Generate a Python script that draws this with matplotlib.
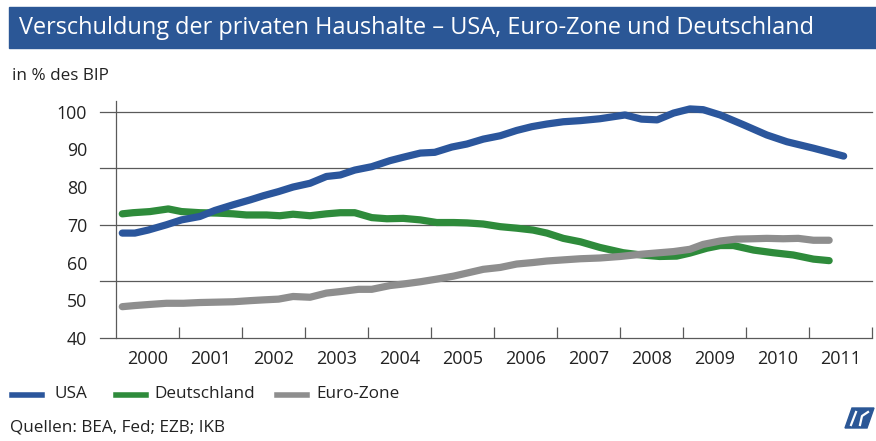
import matplotlib
matplotlib.use('Agg')
import matplotlib.pyplot as plt
from matplotlib.patches import Rectangle, Polygon
from matplotlib.lines import Line2D

plt.rcParams['font.family'] = ['Open Sans', 'DejaVu Sans']

# data (x in fractional years, values in % of GDP)
usa_x = [2000.10, 2000.30, 2000.51, 2000.80, 2001.04, 2001.33, 2001.57, 2001.86,
         2002.13, 2002.34, 2002.58, 2002.81, 2003.08, 2003.34, 2003.56, 2003.79,
         2004.06, 2004.35, 2004.56, 2004.83, 2005.06, 2005.33, 2005.57, 2005.83,
         2006.10, 2006.36, 2006.60, 2006.84, 2007.10, 2007.37, 2007.68, 2008.08,
         2008.34, 2008.59, 2008.85, 2009.11, 2009.32, 2009.59, 2009.96, 2010.33,
         2010.65, 2011.07, 2011.55]
usa = [67.8, 67.8, 68.6, 70.0, 71.3, 72.2, 73.8, 75.3,
       76.6, 77.7, 78.8, 80.0, 81.0, 82.8, 83.2, 84.5,
       85.4, 87.0, 87.9, 89.0, 89.2, 90.6, 91.4, 92.7,
       93.6, 95.0, 96.0, 96.7, 97.3, 97.6, 98.1, 99.1,
       98.0, 97.8, 99.6, 100.7, 100.5, 99.1, 96.5, 93.8,
       92.0, 90.3, 88.2]

de_x = [2000.10, 2000.27, 2000.54, 2000.83, 2001.04, 2001.33, 2001.60, 2001.86,
        2002.07, 2002.39, 2002.60, 2002.81, 2003.08, 2003.34, 2003.56, 2003.79,
        2004.06, 2004.30, 2004.56, 2004.83, 2005.09, 2005.36, 2005.57, 2005.83,
        2006.10, 2006.36, 2006.62, 2006.84, 2007.10, 2007.37, 2007.68, 2008.05,
        2008.34, 2008.63, 2008.90, 2009.11, 2009.38, 2009.59, 2009.80, 2010.12,
        2010.43, 2010.75, 2011.07, 2011.32]
de = [72.9, 73.2, 73.5, 74.2, 73.5, 73.2, 73.1, 72.9,
      72.6, 72.6, 72.4, 72.8, 72.4, 72.9, 73.2, 73.2,
      71.9, 71.6, 71.7, 71.3, 70.6, 70.6, 70.5, 70.2,
      69.5, 69.1, 68.6, 67.8, 66.4, 65.5, 64.0, 62.6,
      62.0, 61.6, 61.7, 62.5, 63.8, 64.5, 64.5, 63.3,
      62.6, 62.0, 60.9, 60.5]

ez_x = [2000.10, 2000.30, 2000.54, 2000.80, 2001.07, 2001.33, 2001.60, 2001.86,
        2002.13, 2002.34, 2002.58, 2002.81, 2003.08, 2003.34, 2003.56, 2003.85,
        2004.06, 2004.35, 2004.56, 2004.83, 2005.09, 2005.36, 2005.57, 2005.83,
        2006.10, 2006.36, 2006.62, 2006.84, 2007.10, 2007.37, 2007.68, 2008.00,
        2008.34, 2008.63, 2008.85, 2009.11, 2009.32, 2009.59, 2009.85, 2010.12,
        2010.33, 2010.59, 2010.83, 2011.07, 2011.32]
ez = [48.3, 48.6, 48.9, 49.2, 49.2, 49.4, 49.5, 49.6,
      49.9, 50.1, 50.3, 51.0, 50.8, 51.9, 52.3, 52.9,
      52.9, 53.9, 54.3, 54.9, 55.6, 56.4, 57.2, 58.2,
      58.7, 59.6, 60.0, 60.4, 60.7, 61.0, 61.2, 61.6,
      62.2, 62.6, 62.9, 63.5, 64.8, 65.7, 66.2, 66.3,
      66.4, 66.3, 66.4, 65.9, 65.9]

years = list(range(2000, 2012))
yticks = [40, 50, 60, 70, 80, 90, 100]
grid_vals = [55, 70, 85, 100]

c_usa = '#2b569c'
c_de = '#2e8b3b'
c_ez = '#8e8e8e'
c_bar = '#2b5796'
c_axis = '#5a5a5a'
c_text = '#222222'

W, H = 876, 441
fig = plt.figure(figsize=(W / 100, H / 100), dpi=100)

# title bar
fig.patches.append(Rectangle((9 / W, 1 - 48 / H), 1 - 9 / W, 41 / H,
                             transform=fig.transFigure, color=c_bar, zorder=0))
fig.text(19 / W, 1 - 28 / H, 'Verschuldung der privaten Haushalte \u2013 USA, Euro-Zone und Deutschland',
         color='white', fontsize=16.9, va='center', ha='left')
fig.text(12 / W, 1 - 76 / H, 'in % des BIP', fontsize=12.3, va='center', ha='left', color=c_text)

ax = fig.add_axes([116 / W, 1 - 338 / H, 756 / W, 237 / H])
ax.set_xlim(2000, 2012)
ax.set_ylim(40, 102.8)

for g in grid_vals + [40]:
    ax.axhline(g, xmin=-16 / 756, xmax=1, color=c_axis, lw=0.9, clip_on=False, zorder=1)

ax.plot(de_x, de, color=c_de, lw=5.2, solid_capstyle='round', solid_joinstyle='round', zorder=3)
ax.plot(ez_x, ez, color=c_ez, lw=5.2, solid_capstyle='round', solid_joinstyle='round', zorder=4)
ax.plot(usa_x, usa, color=c_usa, lw=5.2, solid_capstyle='round', solid_joinstyle='round', zorder=5)

for s in ['top', 'right', 'bottom']:
    ax.spines[s].set_visible(False)
ax.spines['left'].set_color(c_axis)
ax.spines['left'].set_linewidth(0.9)

ax.set_yticks(yticks)
ax.set_yticklabels([str(v) for v in yticks], fontsize=12.8, color=c_text)
ax.tick_params(axis='y', length=0, pad=29 / 1.389)

ax.set_xticks([y + 1 for y in years])
ax.set_xticklabels([])
ax.tick_params(axis='x', which='major', direction='in', length=8, width=0.9, color=c_axis)
ax.set_xticks([y + 0.5 for y in years], minor=True)
ax.set_xticklabels([str(y) for y in years], minor=True, fontsize=13, color=c_text)
ax.tick_params(axis='x', which='minor', length=0, pad=9)

# legend
items = [(12, 55, 'USA', c_usa), (116, 154, 'Deutschland', c_de), (277, 316, 'Euro-Zone', c_ez)]
for x0, xt, lab, col in items:
    fig.lines.append(Line2D([x0 / W, (x0 + 30) / W], [1 - 395 / H] * 2, color=col, lw=4,
                            transform=fig.transFigure))
    fig.text(xt / W, 1 - 394 / H, lab, fontsize=12.3, va='center', ha='left', color=c_text)

fig.text(10 / W, 1 - 427 / H, 'Quellen: BEA, Fed; EZB; IKB', fontsize=12.3, va='center',
         ha='left', color=c_text)

# small logo bottom right
logo = Polygon([(852 / W, 1 - 408 / H), (874 / W, 1 - 408 / H), (867 / W, 1 - 428 / H),
                (845 / W, 1 - 428 / H)], closed=True, transform=fig.transFigure, color=c_bar)
fig.patches.append(logo)
fig.lines.append(Line2D([856 / W, 851 / W], [1 - 412 / H, 1 - 425 / H], color='white', lw=1.6,
                        transform=fig.transFigure))
fig.lines.append(Line2D([868 / W, 862 / W, 860 / W], [1 - 412 / H, 1 - 416 / H, 1 - 425 / H],
                        color='white', lw=1.6, transform=fig.transFigure))

fig.savefig('out.png', dpi=100)
